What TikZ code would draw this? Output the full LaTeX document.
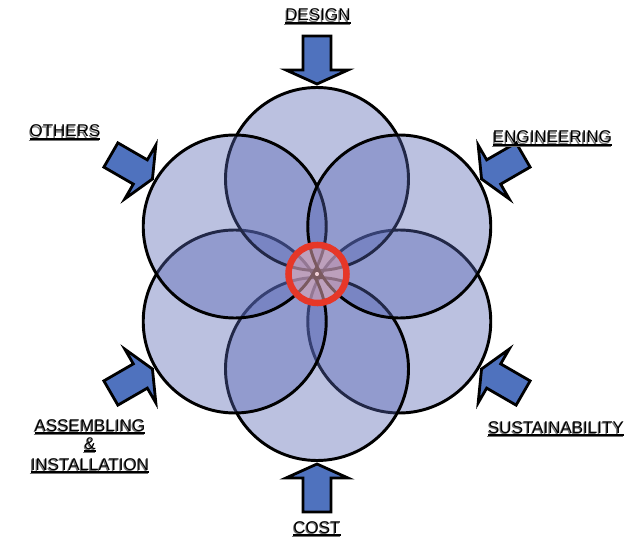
\documentclass[tikz,border=0pt]{standalone}
\usepackage{fontspec}
\setmainfont{Liberation Sans}
\definecolor{circfill}{RGB}{85,100,179}
\definecolor{arrowfill}{RGB}{79,114,190}
\definecolor{ringred}{RGB}{230,55,40}
\definecolor{ringfill}{RGB}{225,165,175}
\newcommand\ulbl[1]{\setbox0\hbox{#1}\rlap{\rule[-2.4pt]{\wd0}{1.4pt}}\box0}
\newcommand\shlbl[1]{\rlap{\kern-0.8pt\raisebox{-0.9pt}{\color{black!55}\ulbl{#1}}}\ulbl{#1}}
\tikzset{
  petal/.style={circle, draw=black, line width=2.2pt, fill=circfill, fill opacity=0.4,
    draw opacity=1, minimum size=137.25pt, inner sep=0pt, outer sep=0pt},
  hubring/.style={circle, draw=ringred, line width=4.9pt, fill=ringfill, fill opacity=0.55,
    draw opacity=1, minimum size=43.5pt, inner sep=0pt, outer sep=0pt},
  arrowstyle/.style={draw=black, line width=2.1pt, fill=arrowfill, line join=miter},
  lbl/.style={anchor=base, inner sep=0pt, outer sep=0pt,
    font=\fontsize{12.75}{15}\selectfont},
  blockarrow/.pic={\draw[arrowstyle] (-48,-14) -- (-14,-14) -- (-14,-31) -- (0,0)
    -- (-14,31) -- (-14,14) -- (-48,14) -- cycle;}
}
\begin{document}
\begin{tikzpicture}[x=0.75pt,y=0.75pt]
\useasboundingbox (-317,-265) rectangle (311,274);
\fill[white] (-317,-265) rectangle (311,274);
% circles (drawing order matters for the overlap look)
\foreach \a/\n in {-30/c1,-90/c2,-150/c3,90/c4,150/c5,30/c6}
  \node[petal] (\n) at (\a:95) {};
% central ring
\node[hubring] (hub) at (0.5,0) {};
% block arrows pointing to the centre
\foreach \a in {90,30,-30,-90,-150,150}
  \pic[rotate=\a+180] at (\a:190) {blockarrow};
% labels
\node[lbl] (design) at (1,253) {\shlbl{DESIGN}};
\node[lbl] (others) at (-252,137) {\shlbl{OTHERS}};
\node[lbl] (engineering) at (235.5,131) {\shlbl{ENGINEERING}};
\node[lbl] (sustainability) at (239,-159) {\shlbl{SUSTAINABILITY}};
\node[lbl] (cost) at (0,-259) {\shlbl{COST}};
\node[lbl] (asm1) at (-227,-157) {\shlbl{ASSEMBLING}};
\node[lbl] (asm2) at (-227,-175) {\shlbl{\&}};
\node[lbl] (asm3) at (-227,-196) {\shlbl{INSTALLATION}};
\end{tikzpicture}
\end{document}
